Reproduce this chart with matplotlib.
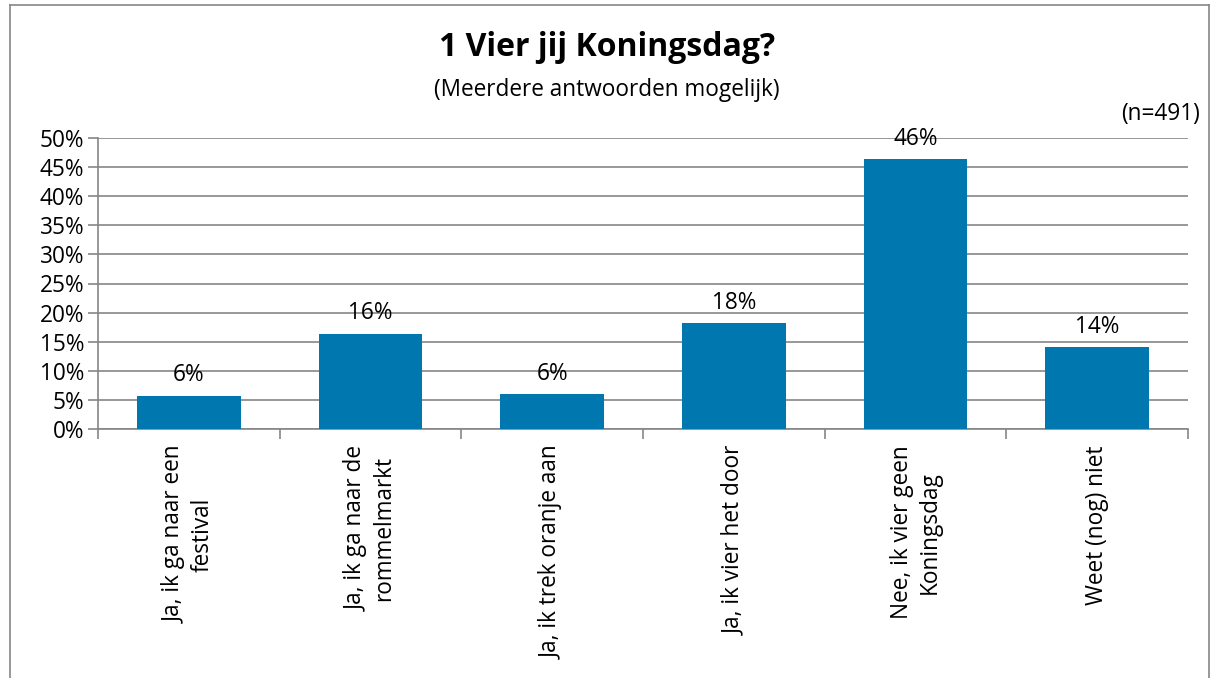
import matplotlib
matplotlib.use("Agg")
import matplotlib.pyplot as plt
from matplotlib.ticker import MultipleLocator, FuncFormatter

categories = ["Ja, ik ga naar een\nfestival", "Ja, ik ga naar de\nrommelmarkt",
              "Ja, ik trek oranje aan", "Ja, ik vier het door",
              "Nee, ik vier geen\nKoningsdag", "Weet (nog) niet"]
values = [5.7, 16.4, 6.0, 18.2, 46.4, 14.1]
labels = ["6%", "16%", "6%", "18%", "46%", "14%"]

plt.rcParams['font.family'] = ['Open Sans', 'DejaVu Sans']
FS = 16.3

fig = plt.figure(figsize=(12.14, 6.78), dpi=100)
ax = fig.add_axes([98/1214, 1-429/678, (1188-98)/1214, (429-138)/678])

x = list(range(len(categories)))
bars = ax.bar(x, values, width=0.57, color='#0077ae', zorder=3)
for b, lab in zip(bars, labels):
    ax.annotate(lab, (b.get_x()+b.get_width()/2, b.get_height()), xytext=(0, 6),
                textcoords='offset points', ha='center', va='bottom', fontsize=FS)

ax.set_xlim(-0.5, len(categories)-0.5)
ax.set_ylim(0, 50)
ax.yaxis.set_major_locator(MultipleLocator(5))
ax.yaxis.set_major_formatter(FuncFormatter(lambda v, p: f"{int(round(v))}%"))
ax.grid(axis='y', color='#868686', linewidth=1.2, zorder=0)
ax.set_xticks(x)
ax.set_xticklabels(categories, rotation=90, va='top', ha='center', multialignment='center', fontsize=FS)
ax.tick_params(axis='x', length=0, pad=12)
ax.set_xticks([i-0.5 for i in range(len(categories)+1)], minor=True)
ax.tick_params(axis='x', which='minor', length=7, color='#868686', width=1.2)
ax.tick_params(axis='y', length=7, color='#868686', width=1.2, labelsize=FS, pad=3)
for s in ['top', 'right']:
    ax.spines[s].set_visible(False)
for s in ['left', 'bottom']:
    ax.spines[s].set_color('#868686')
    ax.spines[s].set_linewidth(1.2)

fig.text(0.5, 1-48/678, "1 Vier jij Koningsdag?", ha='center', va='center', fontsize=23, fontweight='bold')
fig.text(0.5, 1-90/678, "(Meerdere antwoorden mogelijk)", ha='center', va='center', fontsize=FS)
fig.text(1200/1214, 1-114/678, "(n=491)", ha='right', va='center', fontsize=FS)

# outer chart border
fig.add_artist(plt.Line2D([10/1214, 10/1214], [0, 1-5/678], transform=fig.transFigure, color='#868686', lw=1.2))
fig.add_artist(plt.Line2D([10/1214, 1209/1214], [1-5/678, 1-5/678], transform=fig.transFigure, color='#868686', lw=1.2))
fig.add_artist(plt.Line2D([1209/1214, 1209/1214], [0, 1-5/678], transform=fig.transFigure, color='#868686', lw=1.2))

fig.savefig("out.png", dpi=100)
